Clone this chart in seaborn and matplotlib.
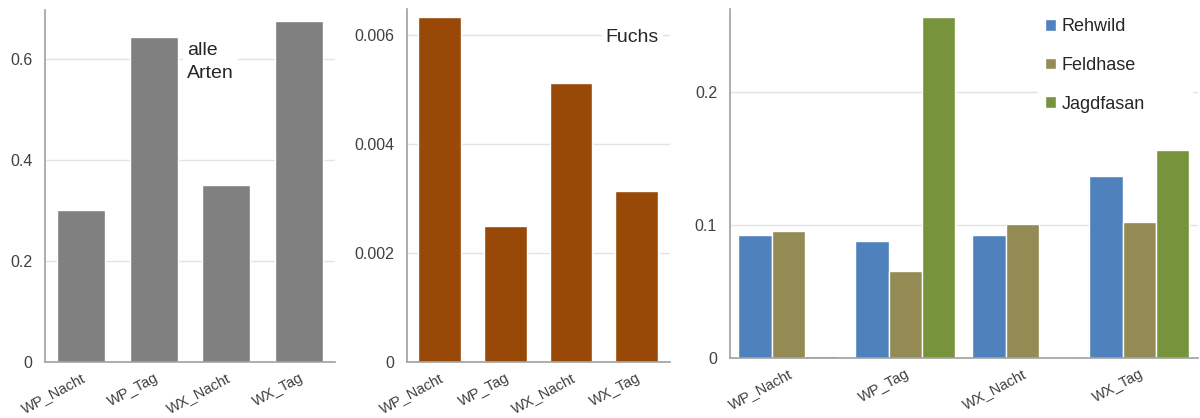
import pandas as pd
import seaborn as sns
import matplotlib.pyplot as plt
from matplotlib.ticker import FuncFormatter, FixedLocator

sns.set_style('white')
plt.rcParams['font.family'] = ['Liberation Sans', 'DejaVu Sans']

categories = ['WP_Nacht', 'WP_Tag', 'WX_Nacht', 'WX_Tag']
alle_arten = [0.301, 0.644, 0.350, 0.676]
fuchs = [0.00633, 0.00250, 0.00512, 0.00314]
rehwild = [0.0925, 0.088, 0.0925, 0.137]
feldhase = [0.0955, 0.065, 0.1007, 0.102]
jagdfasan = [0.0015, 0.256, 0.0, 0.156]
species = ['Rehwild', 'Feldhase', 'Jagdfasan']
species_colors = ['#4F81BD', '#948A54', '#77933C']

df_all = pd.DataFrame({'cat': categories, 'val': alle_arten})
df_fuchs = pd.DataFrame({'cat': categories, 'val': fuchs})
df_sp = pd.DataFrame({'cat': categories * 3,
                      'art': [s for s in species for _ in categories],
                      'val': rehwild + feldhase + jagdfasan})

fig = plt.figure(figsize=(12, 4.18), dpi=100)
ax1 = fig.add_axes([0.0375, 0.134, 0.2417, 0.842])
ax2 = fig.add_axes([0.339, 0.134, 0.219, 0.845])
ax3 = fig.add_axes([0.608, 0.1435, 0.39, 0.835])

sns.barplot(data=df_all, x='cat', y='val', color='#808080', saturation=1, width=0.66, ax=ax1)
sns.barplot(data=df_fuchs, x='cat', y='val', color='#984807', saturation=1, width=0.65, ax=ax2)
sns.barplot(data=df_sp, x='cat', y='val', hue='art', palette=species_colors,
            saturation=1, width=0.85, ax=ax3)

fmt = FuncFormatter(lambda v, p: '0' if v == 0 else f'{v:g}')


def style(ax, ymax, yticks):
    ax.set_xlim(-0.5, 3.5)
    ax.set_ylim(0, ymax)
    ax.set_yticks(yticks)
    ax.yaxis.set_major_formatter(fmt)
    ax.set_xlabel('')
    ax.set_ylabel('')
    ax.grid(axis='y', color='#e3e3e3', linewidth=1)
    ax.set_axisbelow(True)
    for s in ['top', 'right']:
        ax.spines[s].set_visible(False)
    for s in ['left', 'bottom']:
        ax.spines[s].set_color('#a0a0a0')
        ax.spines[s].set_linewidth(1.2)
    ax.tick_params(axis='y', length=0, labelsize=11.5, labelcolor='#404040', pad=9)
    ax.tick_params(axis='x', which='major', length=0, labelsize=10.5, labelcolor='#404040', pad=6)
    ax.xaxis.set_minor_locator(FixedLocator([-0.5, 0.5, 1.5, 2.5, 3.5]))
    ax.tick_params(axis='x', which='minor', length=5, color='#a0a0a0', width=1.2)
    plt.setp(ax.get_xticklabels(), rotation=28, ha='right', rotation_mode='anchor')


style(ax1, 0.697, [0, 0.2, 0.4, 0.6])
style(ax2, 0.00648, [0, 0.002, 0.004, 0.006])
style(ax3, 0.262, [0, 0.1, 0.2])

ax1.text(0.49, 0.91, 'alle\nArten', transform=ax1.transAxes, fontsize=14, va='top', ha='left',
         linespacing=1.45, bbox=dict(facecolor='white', edgecolor='none', pad=3))
ax2.text(0.96, 0.92, 'Fuchs', transform=ax2.transAxes, fontsize=14, va='center', ha='right',
         bbox=dict(facecolor='white', edgecolor='none', pad=3))

ax3.legend(loc='upper left', bbox_to_anchor=(0.64, 1.02, 0.37, 0), mode='expand',
           frameon=True, facecolor='white', edgecolor='none', framealpha=1, fontsize=13,
           handlelength=0.6, handleheight=0.6, handletextpad=0.3, labelspacing=1.2, title=None)

fig.savefig('out.png', dpi=100)
